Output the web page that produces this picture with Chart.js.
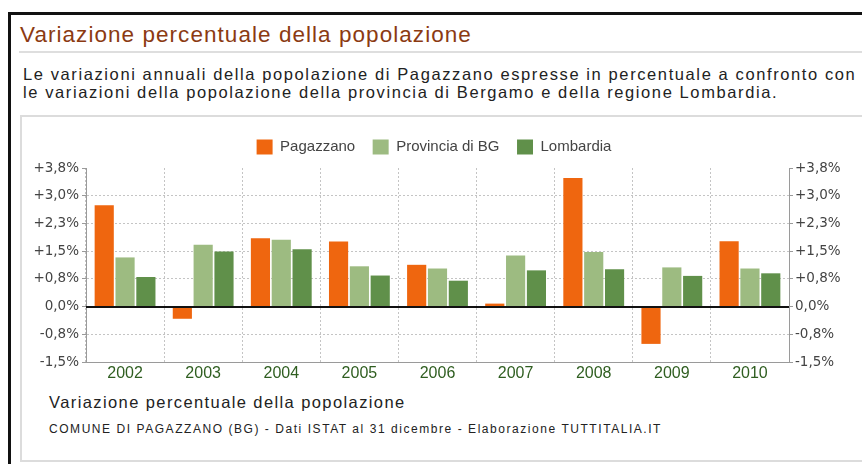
<!DOCTYPE html>
<html lang="it">
<head>
<meta charset="utf-8">
<title>Variazione percentuale della popolazione</title>
<script src="https://cdn.jsdelivr.net/npm/chart.js@4.4.1/dist/chart.umd.min.js"></script>
<style>
  html, body { margin: 0; padding: 0; background: #fff; }
  body { position: relative; width: 862px; height: 464px; overflow: hidden; font-family: "Liberation Sans", Arial, sans-serif; }
  .frame { position: absolute; left: 8px; top: 12px; width: 900px; height: 500px; border-left: 3px solid #111; border-top: 3px solid #111; }
  .title { position: absolute; left: 20px; top: 24px; font-size: 22.5px; line-height: 22px; letter-spacing: 1.05px; color: #8b3a12; white-space: nowrap; }
  .rule { position: absolute; left: 19px; top: 51px; width: 860px; height: 2px; background: #dedede; }
  .intro { position: absolute; left: 23px; top: 65px; font-size: 16.5px; line-height: 18px; letter-spacing: 1.6px; color: #222; white-space: nowrap; }
  .box { position: absolute; left: 20px; top: 115px; width: 860px; height: 343px; border: 2px solid #dcdcdc; }
  #chart { position: absolute; left: 0; top: 116px; }
  .caption { position: absolute; left: 49px; top: 394px; font-size: 16.5px; line-height: 16.5px; letter-spacing: 1.4px; color: #222; white-space: nowrap; }
  .source { position: absolute; left: 49px; top: 423px; font-size: 12px; line-height: 12px; letter-spacing: 1.55px; color: #222; white-space: nowrap; }
</style>
</head>
<body>
<div class="frame"></div>
<div class="title">Variazione percentuale della popolazione</div>
<div class="rule"></div>
<div class="intro">Le variazioni annuali della popolazione di Pagazzano espresse in percentuale a confronto con<br>le variazioni della popolazione della provincia di Bergamo e della regione Lombardia.</div>
<div class="box"></div>
<canvas id="chart" width="862" height="274"></canvas>
<div class="caption">Variazione percentuale della popolazione</div>
<div class="source">COMUNE DI PAGAZZANO (BG) - Dati ISTAT al 31 dicembre - Elaborazione TUTTITALIA.IT</div>

<script>
const years = ["2002", "2003", "2004", "2005", "2006", "2007", "2008", "2009", "2010"]
const pagazzano = [2.74, -0.33, 1.85, 1.76, 1.13, 0.08, 3.48, -1.01, 1.77]
const provinciaBG = [1.33, 1.67, 1.81, 1.09, 1.03, 1.38, 1.48, 1.06, 1.03]
const lombardia = [0.80, 1.49, 1.55, 0.84, 0.70, 0.98, 1.01, 0.83, 0.90]

const yTicks = [-1.5, -0.75, 0, 0.75, 1.5, 2.25, 3, 3.75]
const yTickLabels = ["-1,5%", "-0,8%", "0,0%", "+0,8%", "+1,5%", "+2,3%", "+3,0%", "+3,8%"]

const arial = "'Liberation Sans', Arial, sans-serif"
const verdana = "'DejaVu Sans', Verdana, sans-serif"
const gridColor = "#c4c4c4"
const axisColor = "#9a9a9a"

// legend box sits a few px further from the plot than Chart.js allows by default
const legendGap = {
  id: "legendGap",
  beforeLayout(chart) {
    const legend = chart.legend
    if (legend && !legend._gapPatched) {
      const fit = legend.fit.bind(legend)
      legend.fit = function() {
        fit()
        this.height += 3.5
      }
      legend._gapPatched = true
    }
  }
}

const zeroLine = {
  id: "zeroLine",
  afterDatasetsDraw(chart) {
    const { ctx, chartArea, scales } = chart
    const y = Math.round(scales.y.getPixelForValue(0))
    ctx.save()
    ctx.strokeStyle = "#111"
    ctx.lineWidth = 2
    ctx.beginPath()
    ctx.moveTo(chartArea.left, y)
    ctx.lineTo(chartArea.right, y)
    ctx.stroke()
    ctx.restore()
  }
}

function yAxis(position, width, tickPadding) {
  return {
    position: position,
    min: -1.5,
    max: 3.75,
    afterBuildTicks: (scale) => {
      scale.ticks = yTicks.map(value => ({ value }))
    },
    afterFit: (scale) => {
      scale.width = width
    },
    grid: {
      drawOnChartArea: position === "left",
      color: (ctx) => {
        const v = ctx.tick ? ctx.tick.value : null
        if (v === 0 || v === 3.75 || v === -1.5) return "rgba(0,0,0,0)"
        return gridColor
      },
      tickColor: axisColor,
      tickLength: 4
    },
    border: {
      display: true,
      color: axisColor,
      dash: [2, 2]
    },
    ticks: {
      color: "#444",
      padding: tickPadding,
      autoSkip: false,
      font: { family: verdana, size: 13.5 },
      callback: (value, index) => yTickLabels[index]
    }
  }
}

const chart = new Chart(document.getElementById("chart"), {
  type: "bar",
  data: {
    labels: years,
    datasets: [
      { label: "Pagazzano", data: pagazzano, backgroundColor: "#ef660f", yAxisID: "y" },
      { label: "Provincia di BG", data: provinciaBG, backgroundColor: "#9dbb81", yAxisID: "y" },
      { label: "Lombardia", data: lombardia, backgroundColor: "#60904a", yAxisID: "y" }
    ]
  },
  options: {
    responsive: false,
    animation: false,
    events: [],
    datasets: {
      bar: {
        categoryPercentage: 0.8,
        barPercentage: 0.92,
        borderWidth: 0
      }
    },
    layout: {
      padding: { left: 6, top: 6, right: 0, bottom: 0 }
    },
    plugins: {
      tooltip: { enabled: false },
      legend: {
        display: true,
        position: "top",
        labels: {
          boxWidth: 16,
          boxHeight: 15,
          padding: 17.5,
          color: "#444",
          font: { family: arial, size: 15 }
        }
      }
    },
    scales: {
      x: {
        afterFit: (scale) => {
          scale.height = 28
        },
        grid: {
          offset: true,
          color: gridColor,
          drawTicks: false
        },
        border: {
          display: true,
          color: axisColor,
          dash: [2, 2]
        },
        ticks: {
          color: "#2f5e20",
          padding: 2,
          font: { family: arial, size: 16 }
        }
      },
      y: yAxis("left", 80, 3),
      y2: yAxis("right", 73, 2)
    }
  },
  plugins: [legendGap, zeroLine]
})
</script>
</body>
</html>
